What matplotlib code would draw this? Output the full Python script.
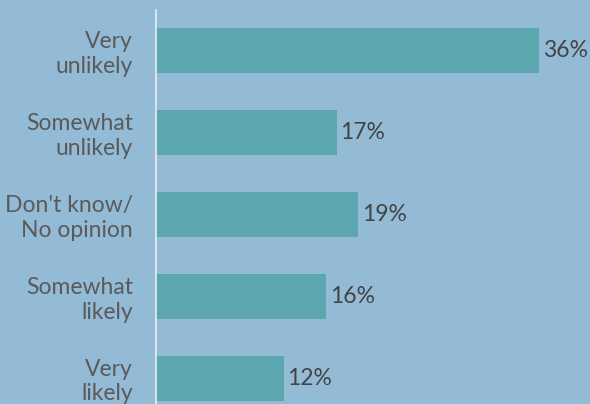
import matplotlib
matplotlib.use("Agg")
import matplotlib.pyplot as plt

categories = ["Very\nunlikely", "Somewhat\nunlikely", "Don't know/\nNo opinion", "Somewhat\nlikely", "Very\nlikely"]
values = [36, 17, 19, 16, 12]

BG = "#93bbd5"
BAR = "#5ba6af"

fig = plt.figure(figsize=(5.90, 4.04), dpi=100, facecolor=BG)
ax = fig.add_axes([156/590, 0, 1 - 156/590, 394/404])
ax.set_facecolor(BG)

ypos = list(range(len(categories)))
ax.barh(ypos, values, height=0.55, color=BAR)
ax.set_xlim(0, 40.8)
ax.set_ylim(4.317, -0.494)

for y, v in zip(ypos, values):
    ax.text(v + 0.35, y, f"{v}%", va="center", ha="left", fontsize=16.5, color="#444444", family="Lato")

ax.set_yticks(ypos)
ax.set_yticklabels(categories, fontsize=16.5, color="#5a5a5a", family="Lato", linespacing=1.2)
ax.tick_params(axis="y", length=0, pad=16.5)
ax.set_xticks([])
for s in ["top", "right", "bottom"]:
    ax.spines[s].set_visible(False)
ax.spines["left"].set_color("#e8eef3")
ax.spines["left"].set_linewidth(1.2)
for lbl in ax.get_yticklabels():
    lbl.set_multialignment("right")

fig.savefig("out.png", dpi=100, facecolor=BG)
